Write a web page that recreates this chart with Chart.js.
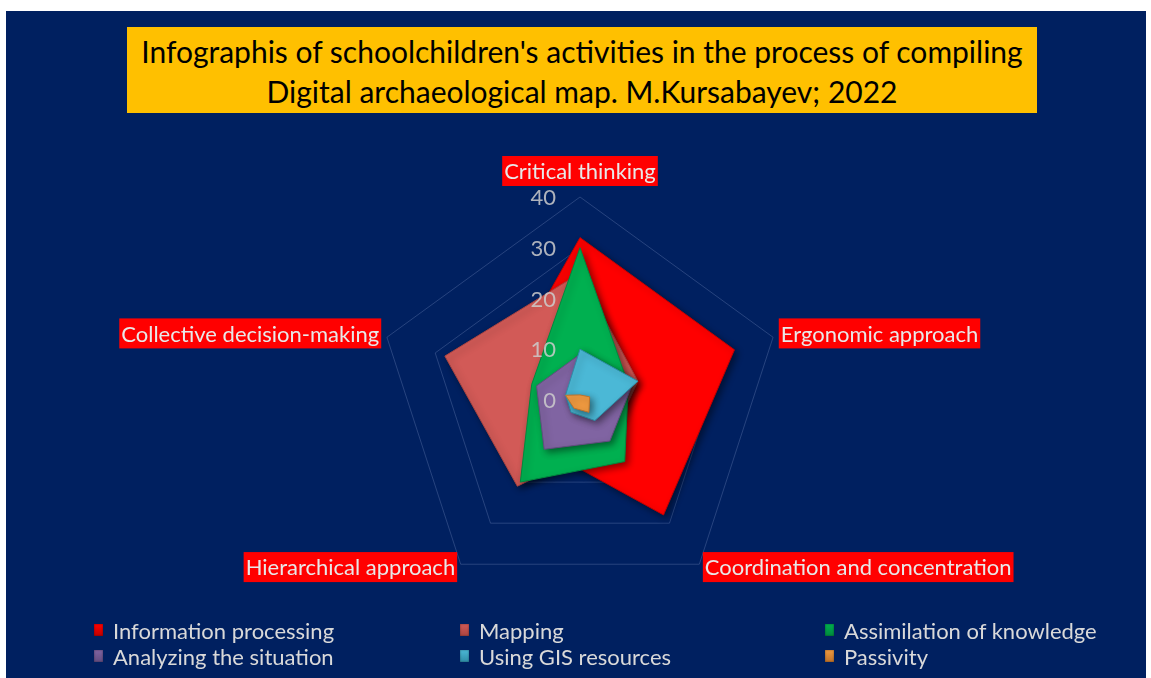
<!DOCTYPE html>
<html>
<head>
<meta charset="utf-8">
<script src="https://cdn.jsdelivr.net/npm/chart.js@4/dist/chart.umd.min.js"></script>
<style>
  html, body { margin: 0; padding: 0; background: #fff; }
  body { width: 1151px; height: 678px; position: relative; overflow: hidden; font-family: Lato, sans-serif; }
  #panel { position: absolute; left: 6px; top: 11px; width: 1140px; height: 667px; background: #002060; }
  #wrap { position: absolute; left: 0; top: 0; width: 1151px; height: 678px; }
  #title { position: absolute; left: 127px; top: 27px; width: 910px; height: 82px; padding-top: 4px;
           background: #ffc000; color: #000; text-align: center; font-size: 30px; line-height: 40px; }
  #legend { position: absolute; left: 94px; top: 617px; width: 1040px; display: grid;
            grid-template-columns: 366px 365px 300px; grid-auto-rows: 26px; }
  .item { display: flex; align-items: center; color: #d9d9d9; font-size: 22px; white-space: nowrap; }
  .mark { width: 9px; height: 12px; margin-right: 10px; box-shadow: inset 0 0 2px rgba(0,0,0,0.5); }
</style>
</head>
<body>
<div id="panel"></div>
<div id="title">Infographis of schoolchildren's activities in the process of compiling<br>Digital archaeological map. M.Kursabayev; 2022</div>
<div id="wrap"><canvas id="chart"></canvas></div>
<div id="legend"></div>
<script>
const AXES = ['Critical thinking', 'Ergonomic approach', 'Coordination and concentration', 'Hierarchical approach', 'Collective decision-making'];
const SERIES = ['Information processing', 'Mapping', 'Assimilation of knowledge', 'Analyzing the situation', 'Using GIS resources', 'Passivity'];
const INFO_PROCESSING = [32, 32, 28, 12, 16];
const MAPPING = [25, 12, 10, 21, 28];
const ASSIMILATION = [30, 10, 15, 20, 10];
const ANALYZING = [9, 11, 10, 12, 9];
const GIS_RESOURCES = [10, 12, 5, 3, 3];
const PASSIVITY = [1, 2, 3, 2, 3];
const TICKS = [0, 10, 20, 30, 40];

const COLORS = ['#ff0000', '#d25a57', '#00b050', '#8064a2', '#4bb8d6', '#f09a40'];
const EDGES = ['#c00000', '#a94440', '#008a3e', '#634d80', '#2f8ea8', '#c0732a'];

const values = [INFO_PROCESSING, MAPPING, ASSIMILATION, ANALYZING, GIS_RESOURCES, PASSIVITY];

// soft shadow under every polygon, like the bevel look of the original
const shadowPlugin = {
  id: 'shadow',
  beforeDatasetsDraw(chart) {
    const ctx = chart.ctx;
    ctx.save();
    ctx.shadowColor = 'rgba(0,0,0,0.45)';
    ctx.shadowBlur = 7;
    ctx.shadowOffsetX = 3;
    ctx.shadowOffsetY = 3;
  },
  afterDatasetsDraw(chart) {
    chart.ctx.restore();
  }
};

// axis names on red boxes and the value labels left of the top spoke
const labelPlugin = {
  id: 'labels',
  afterDraw(chart) {
    const s = chart.scales.r, ctx = chart.ctx;
    ctx.save();
    ctx.font = '22px Lato';
    ctx.textBaseline = 'middle';
    ctx.textAlign = 'left';
    AXES.forEach((txt, i) => {
      const p = s.getPointPosition(i, s.drawingArea + 6);
      const w = ctx.measureText(txt).width + 4, h = 30;
      let x, y;
      if (Math.abs(p.x - s.xCenter) < 2) { x = p.x - w / 2; y = p.y - 5 - h; }
      else if (p.x > s.xCenter) { x = p.x; y = p.y - 2 - h / 2; }
      else { x = p.x - w; y = p.y - 2 - h / 2; }
      ctx.fillStyle = '#ff0000';
      ctx.fillRect(x, y, w, h);
      ctx.fillStyle = '#e8e8e8';
      ctx.fillText(txt, x + 2, y + h / 2 + 1);
    });
    ctx.font = '22px Lato';
    ctx.textAlign = 'right';
    ctx.fillStyle = 'rgba(205,205,205,0.85)';
    TICKS.forEach(v => {
      const y = s.yCenter - s.getDistanceFromCenterForValue(v);
      ctx.fillText(String(v), s.xCenter - 24, y + 1);
    });
    ctx.restore();
  }
};

const chart = new Chart(document.getElementById('chart'), {
  type: 'radar',
  data: {
    labels: AXES,
    datasets: SERIES.map((name, i) => ({
      label: name,
      data: values[i],
      backgroundColor: COLORS[i],
      borderColor: EDGES[i],
      borderWidth: 1,
      fill: 'start',
      pointRadius: 0,
      order: SERIES.length - i
    }))
  },
  options: {
    responsive: true,
    maintainAspectRatio: false,
    animation: false,
    layout: { padding: { left: 377, right: 368, top: 197, bottom: 75 } },
    scales: {
      r: {
        min: 0,
        max: 40,
        ticks: { stepSize: 10, display: false },
        grid: { color: 'rgba(140,160,210,0.28)', lineWidth: 1 },
        angleLines: { display: false },
        pointLabels: { display: false }
      }
    },
    plugins: { legend: { display: false }, tooltip: { enabled: false } }
  },
  plugins: [shadowPlugin, labelPlugin]
});

// legend built from the chart's datasets, three columns like the original
const legendBox = document.getElementById('legend');
chart.data.datasets.forEach(ds => {
  const item = document.createElement('div');
  item.className = 'item';
  const mark = document.createElement('span');
  mark.className = 'mark';
  mark.style.background = 'linear-gradient(180deg, ' + ds.backgroundColor + ' 0%, ' + ds.borderColor + ' 100%)';
  item.appendChild(mark);
  item.appendChild(document.createTextNode(ds.label));
  legendBox.appendChild(item);
});
</script>
</body>
</html>
